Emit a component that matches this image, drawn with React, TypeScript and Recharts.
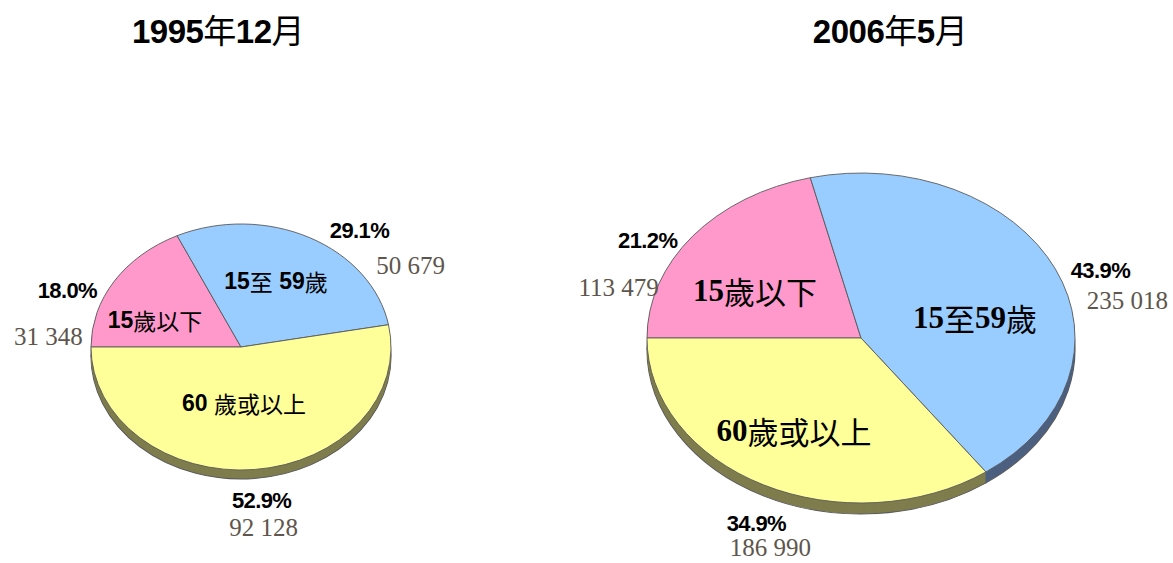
import { PieChart, Pie, Cell } from 'recharts'

// age groups, in the order the slices run clockwise from 9 o'clock
const GROUPS_1995 = ['15歲以下', '15至 59歲', '60 歲或以上']
const GROUPS_2006 = ['15歲以下', '15至59歲', '60歲或以上']
const VALUES_1995 = [31348, 50679, 92128]
const VALUES_2006 = [113479, 235018, 186990]
const TITLES = ['1995年12月', '2006年5月']

const TOP_COLORS = ['#FF99CC', '#99CCFF', '#FFFF99']
const SIDE_COLORS = ['#9a5b7a', '#4d6080', '#7f7d4d']
const EDGE = '#5a5a5a'
const VALUE_COLOR = '#5e564c'

type Chart = {
  key: string
  title: string
  titleX: number
  cx: number
  cy: number
  r: number
  ky: number
  depth: number
  data: { name: string; value: number }[]
  // label placement: percent / count relative to the rim point, name relative to centre
  pctOff: number[][]
  valOff: number[][]
  nameOff: number[][]
  nameSize: number
  nameFont: string
}

const CHARTS: Chart[] = [
  {
    key: 'c1995',
    title: TITLES[0],
    titleX: 218,
    cx: 241,
    cy: 347,
    r: 150,
    ky: 0.82,
    depth: 9,
    data: GROUPS_1995.map((name, i) => ({ name, value: VALUES_1995[i] })),
    pctOff: [[-47, 9], [50, -7], [7, 31]],
    valOff: [[-66, 55], [101, 28], [9, 58]],
    nameOff: [[-86, -27], [35, -66], [3, 56]],
    nameSize: 23,
    nameFont: '"Liberation Sans", Arial, sans-serif',
  },
  {
    key: 'c2006',
    title: TITLES[1],
    titleX: 890,
    cx: 861,
    cy: 338,
    r: 214,
    ky: 0.771,
    depth: 11,
    data: GROUPS_2006.map((name, i) => ({ name, value: VALUES_2006[i] })),
    pctOff: [[-45, 4], [45, 1], [-7, 39]],
    valOff: [[-74, 51], [72, 31], [7, 63]],
    nameOff: [[-106, -48], [114, -21], [-67, 92]],
    nameSize: 31,
    nameFont: '"Liberation Serif", "Times New Roman", serif',
  },
]

const CJK = '"Noto Sans CJK TC", "Noto Sans CJK SC", sans-serif'

const fmt = (v: number) => String(v).replace(/\B(?=(\d{3})+(?!\d))/g, ' ')

// latin digits bold, CJK characters regular
const runs = (s: string) =>
  s
    .split(/([0-9 ]+)/)
    .filter(Boolean)
    .map((part, i) =>
      /[0-9]/.test(part) ? (
        <tspan key={i} fontWeight="bold">{part}</tspan>
      ) : (
        <tspan key={i} fontFamily={CJK} fontWeight="normal">{part}</tspan>
      )
    )

const htmlRuns = (s: string) =>
  s
    .split(/([0-9 ]+)/)
    .filter(Boolean)
    .map((part, i) =>
      /[0-9]/.test(part) ? (
        <span key={i} style={{ fontWeight: 'bold' }}>{part}</span>
      ) : (
        <span key={i} style={{ fontFamily: CJK, fontWeight: 'normal' }}>{part}</span>
      )
    )

const makeLabel = (c: Chart) => (props: any) => {
  const { cx, cy, midAngle, outerRadius, percent, value, index, name } = props
  const rad = (Math.PI / 180) * midAngle
  const rimX = cx + outerRadius * Math.cos(rad)
  const rimY = cy - outerRadius * c.ky * Math.sin(rad)
  const po = c.pctOff[index]
  const vo = c.valOff[index]
  const no = c.nameOff[index]
  return (
    <g>
      <text
        x={rimX + po[0]}
        y={rimY + po[1]}
        textAnchor="middle"
        dominantBaseline="central"
        fontFamily='"Liberation Sans", Arial, sans-serif'
        fontWeight="bold"
        fontSize={22}
        letterSpacing={-0.6}
        fill="#000"
      >
        {(percent * 100).toFixed(1)}%
      </text>
      <text
        x={rimX + vo[0]}
        y={rimY + vo[1]}
        textAnchor="middle"
        dominantBaseline="central"
        fontFamily='"Liberation Serif", "Times New Roman", serif'
        fontSize={25}
        fill={VALUE_COLOR}
      >
        {fmt(value)}
      </text>
      <text
        x={cx + no[0]}
        y={cy + no[1]}
        textAnchor="middle"
        dominantBaseline="central"
        fontFamily={c.nameFont}
        fontSize={c.nameSize}
        fill="#000"
      >
        {runs(name)}
      </text>
    </g>
  )
}

const css = CHARTS.map(
  (c) =>
    `.${c.key} .recharts-sector { transform-origin: ${c.cx}px ${c.cy}px; transform: scaleY(${c.ky}); }`
).join('\n')

export default function App() {
  return (
    <div
      style={{
        position: 'absolute',
        left: 0,
        top: 0,
        width: 1173,
        height: 563,
        background: '#fff',
        overflow: 'hidden',
      }}
    >
      <style>{css}</style>
      {CHARTS.map((c) => (
        <div
          key={c.key + '-title'}
          style={{
            position: 'absolute',
            left: c.titleX - 200,
            width: 400,
            top: 13,
            textAlign: 'center',
            fontFamily: '"Liberation Sans", Arial, sans-serif',
            fontSize: 33,
            lineHeight: '33px',
            color: '#000',
            letterSpacing: -0.5,
          }}
        >
          {htmlRuns(c.title)}
        </div>
      ))}
      <PieChart width={1173} height={563} margin={{ top: 0, right: 0, bottom: 0, left: 0 }}>
        {CHARTS.map((c) =>
          Array.from({ length: c.depth }, (_, k) => c.depth - k).map((d) => (
            <Pie
              key={`${c.key}-side-${d}`}
              className={c.key}
              data={c.data}
              dataKey="value"
              nameKey="name"
              cx={c.cx}
              cy={c.cy + d / c.ky}
              outerRadius={c.r}
              startAngle={180}
              endAngle={-180}
              stroke={d === c.depth ? EDGE : 'none'}
              strokeWidth={1.2}
              isAnimationActive={false}
              label={false}
              labelLine={false}
            >
              {c.data.map((_, i) => (
                <Cell key={i} fill={SIDE_COLORS[i]} />
              ))}
            </Pie>
          ))
        )}
        {CHARTS.map((c) => (
          <Pie
            key={`${c.key}-top`}
            className={c.key}
            data={c.data}
            dataKey="value"
            nameKey="name"
            cx={c.cx}
            cy={c.cy}
            outerRadius={c.r}
            startAngle={180}
            endAngle={-180}
            stroke={EDGE}
            strokeWidth={1}
            isAnimationActive={false}
            labelLine={false}
            label={makeLabel(c)}
          >
            {c.data.map((_, i) => (
              <Cell key={i} fill={TOP_COLORS[i]} />
            ))}
          </Pie>
        ))}
      </PieChart>
    </div>
  )
}
